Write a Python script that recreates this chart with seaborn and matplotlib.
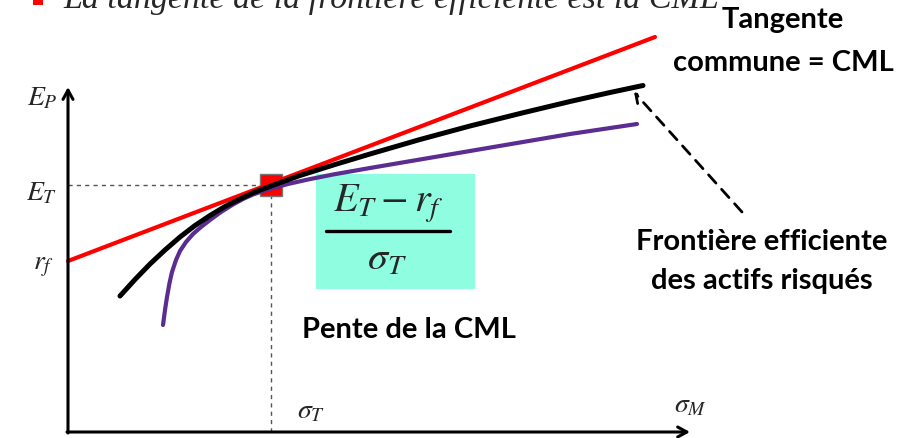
import matplotlib
matplotlib.use("Agg")
import matplotlib.pyplot as plt
import seaborn as sns
import pandas as pd
from matplotlib.patches import Rectangle

sns.set_theme(style="white")
plt.rcParams["mathtext.fontset"] = "stix"
plt.rcParams["font.family"] = ["DejaVu Sans"]

# ---- data (risk sigma, expected return E) ----
frontier_sigma = [52, 67, 82, 97, 112, 127, 142, 157, 172, 187, 203, 232, 267, 302,
                  352, 402, 452, 502, 542, 575]
frontier_E = [136, 152.5, 168, 182, 195, 206.5, 216.5, 225.5, 233, 240, 246, 256.5,
              267.5, 278, 292.5, 306, 318.5, 330.5, 339.5, 346.5]

risky_sigma = [95, 97, 99, 101.5, 104, 108, 112, 118, 125, 133, 142, 153, 165, 175,
               185, 195, 205, 220, 240, 265, 302, 352, 402, 452, 502, 569]
risky_E = [107, 122, 135, 149, 160, 172, 181, 190, 198, 205, 212, 220, 227.5, 233,
           237.5, 241, 244, 248, 252.5, 257.5, 264, 272.5, 281, 289.5, 298, 308]

cml_sigma = [0, 587]
cml_E = [171, 395]

sigma_T = 203
E_T = 247

df_front = pd.DataFrame({"sigma": frontier_sigma, "E": frontier_E})
df_risky = pd.DataFrame({"sigma": risky_sigma, "E": risky_E})
df_cml = pd.DataFrame({"sigma": cml_sigma, "E": cml_E})

fig = plt.figure(figsize=(9.21, 4.38), dpi=100)
ax = fig.add_axes([0, 0, 1, 1])
ax.set_xlim(-68, 853)
ax.set_ylim(-6, 432)
ax.axis("off")

# teal box
ax.add_patch(Rectangle((248, 143), 159, 115, facecolor="#8ffee0", edgecolor="none", zorder=1))

# dashed guide lines
ax.plot([0, sigma_T], [E_T, E_T], ls=(0, (3, 3)), color="#555555", lw=1.0, zorder=2)
ax.plot([sigma_T, sigma_T], [0, E_T], ls=(0, (3, 3)), color="#555555", lw=1.0, zorder=2)

# tangent point (under the lines)
ax.plot([sigma_T], [E_T], marker="s", markersize=16, markerfacecolor="#ff0000",
        markeredgecolor="#777777", markeredgewidth=1.0, zorder=2.5)

# curves
sns.lineplot(data=df_cml, x="sigma", y="E", color="#ff0000", lw=3.0, ax=ax, sort=False, zorder=3)
sns.lineplot(data=df_risky, x="sigma", y="E", color="#5c2d91", lw=3.0, ax=ax, sort=False, zorder=4)
sns.lineplot(data=df_front, x="sigma", y="E", color="black", lw=3.6, ax=ax, sort=False, zorder=5)

# axes arrows
arrow = dict(arrowstyle="->,head_length=0.55,head_width=0.3", lw=2.2, color="black",
             shrinkA=0, shrinkB=0)
ax.annotate("", xy=(622, 0), xytext=(-1, 0), arrowprops=arrow, zorder=6)
ax.annotate("", xy=(0, 345), xytext=(0, -1), arrowprops=arrow, zorder=6)

# math labels
ms = 20
ax.text(-26, 335, r"$E_P$", fontsize=ms, ha="center", va="center")
ax.text(-26, 240, r"$E_T$", fontsize=ms, ha="center", va="center")
ax.text(-24, 167, r"$r_f$", fontsize=ms, ha="center", va="center")
ax.text(243, 22, r"$\sigma_T$", fontsize=ms, ha="center", va="center")
ax.text(622, 28, r"$\sigma_M$", fontsize=ms, ha="center", va="center")

# fraction
ax.text(320, 220, r"$E_T - r_f$", fontsize=29, ha="center", va="baseline", zorder=6)
ax.plot([258, 382], [201, 201], color="black", lw=2.4, zorder=6)
ax.text(319, 162, r"$\sigma_T$", fontsize=29, ha="center", va="baseline", zorder=6)

# bold annotations
bold = dict(fontsize=21, fontweight="bold", family=["Lato", "DejaVu Sans"], ha="center",
            va="baseline", color="black")
ax.text(715, 404, "Tangente", **bold)
ax.text(715, 361, "commune = CML", **bold)
ax.text(694, 182, "Frontière efficiente", **bold)
ax.text(694, 143, "des actifs risqués", **bold)
ax.text(341, 94, "Pente de la CML", **bold)

# dashed pointer arrow
ax.annotate("", xy=(566, 340), xytext=(674, 220),
            arrowprops=dict(arrowstyle="->,head_length=0.5,head_width=0.3", lw=2.0,
                            color="black", linestyle=(0, (4, 3)), shrinkA=0, shrinkB=0))

# cut-off title line at top
fig.patches.append(Rectangle((33 / 921, 1 - 5 / 438), 10 / 921, 6 / 438,
                             transform=fig.transFigure, facecolor="#ff0000", edgecolor="none"))
fig.text(63 / 921, 1 - 8 / 438, "La tangente de la frontière efficiente est la CML",
         fontsize=24.5, style="italic", family=["Liberation Serif", "DejaVu Serif"],
         ha="left", va="baseline")

fig.savefig("out.png", dpi=100)
